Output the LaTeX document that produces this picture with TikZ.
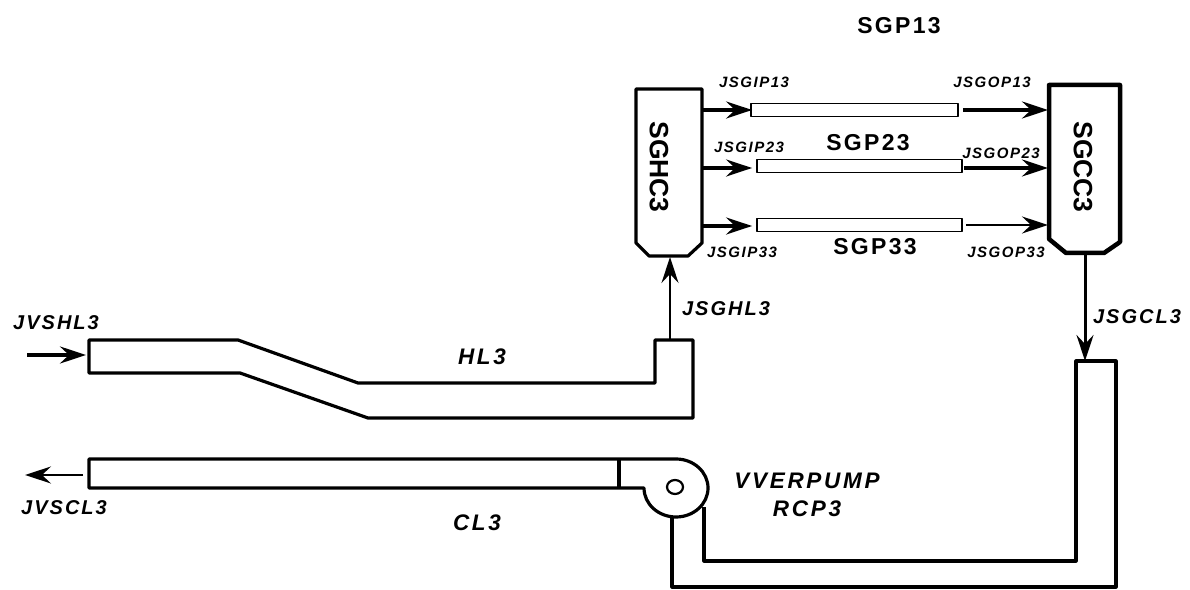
\documentclass[tikz,border=0pt]{standalone}
\usepackage{fontspec}
\setmainfont{Liberation Sans}[LetterSpace=10]
\newfontfamily\widefont{Liberation Sans}[LetterSpace=12]
\newfontfamily\tightfont{Liberation Sans}
\usetikzlibrary{arrows.meta,calc,positioning}
\begin{document}
\begin{tikzpicture}[x=1pt,y=1pt,line join=round,
  pipe/.style={draw=black,line width=3.2pt},
  tube/.style={draw=black,line width=1.8pt,fill=white,minimum height=13pt,inner sep=0pt},
  lab/.style={font=\bfseries\itshape\fontsize{20}{20}\selectfont,inner sep=0pt},
  wlab/.style={font=\widefont\bfseries\itshape\fontsize{22.5}{22.5}\selectfont,inner sep=0pt},
  slab/.style={font=\bfseries\itshape\fontsize{15}{15}\selectfont,inner sep=0pt},
  tlab/.style={font=\bfseries\fontsize{23}{23}\selectfont,inner sep=0pt},
  hdr/.style={font=\tightfont\bfseries\fontsize{26.5}{26.5}\selectfont,inner sep=0pt,rotate=-90},
  ar/.style={-{Stealth[length=26pt,width=17pt,inset=9pt]},line width=3.4pt},
  art/.style={-{Stealth[length=26pt,width=17pt,inset=9pt]},line width=1.8pt}]
  \useasboundingbox (0,0) rectangle (1190,589);
  % header boxes, y = 589 - y of the scan
  \draw[pipe] (636,500) -- (702,500) -- (702,346) -- (688,333) -- (649,333) -- (636,346) -- cycle;
  \draw[pipe,line width=4.5pt] (1049,504) -- (1120,504) -- (1120,347) -- (1104,336) -- (1066,336) -- (1049,350) -- cycle;
  \node[hdr] (sghc) at (659,422) {SGHC3};
  \node[hdr] (sgcc) at (1083,422) {SGCC3};
  \coordinate (sghcr) at (702,422);
  \coordinate (sgccl) at (1048,422);
  \coordinate (sghcb) at (670,332);
  \coordinate (sgccb) at (1085,335);
  % steam generator tubes
  \node[tube,minimum width=207pt] (tube1) at (854.5,479) {};
  \node[tube,minimum width=205pt] (tube2) at (859.5,423) {};
  \node[tube,minimum width=205pt] (tube3) at (859.5,364) {};
  \draw[ar]  (sghcr |- tube1.west) -- ([xshift=2pt]tube1.west);
  \draw[ar]  ($(sghcr |- tube2.west)+(0,-2)$) -- ([shift={(-4pt,-2pt)}]tube2.west);
  \draw[ar]  ($(sghcr |- tube3.west)+(0,-1)$) -- ([shift={(-4pt,-1pt)}]tube3.west);
  \draw[ar]  ([xshift=4pt]tube1.east) -- (sgccl |- tube1.east);
  \draw[ar]  ([shift={(1pt,-2pt)}]tube2.east) -- ($(sgccl |- tube2.east)+(0,-2)$);
  \draw[ar,line width=2.6pt] ([xshift=3pt]tube3.east) -- (sgccl |- tube3.east);
  % hot leg
  \draw[pipe] (89,249) -- (238,249) -- (358,206) -- (655,206) -- (655,249) -- (693,249)
    -- (693,171) -- (368,171) -- (240,216) -- (89,216) -- cycle;
  \coordinate (hlin) at (86,234);
  \coordinate (hlsrc) at (27,234);
  \coordinate (hlout) at (670,249);
  \draw[ar] (hlsrc) -- (hlin);
  \draw[art] (hlout) -- (sghcb);
  % cold leg and pump
  \draw[pipe] (676,130) arc (90:-180:32 and 29) -- (89,101) -- (89,130) -- cycle;
  \draw[pipe] (619,130) -- (619,102);
  \draw[pipe,line width=2.2pt] (675,102) ellipse (8 and 7);
  \coordinate (clout) at (83,114);
  \coordinate (clend) at (25,114);
  \draw[art] (clout) -- (clend);
  % crossover leg
  \draw[pipe] (672,73) -- (672,2) -- (1116,2) -- (1116,228) -- (1076,228) -- (1076,28) -- (704,28) -- (704,82);
  \coordinate (xlin) at (1085,228);
  \draw[ar,line width=3pt] (sgccb) -- (xlin);
  % labels
  \node[tlab] (sgp13) at (899,563) {SGP13};
  \node[tlab] (sgp23) at (868,446) {SGP23};
  \node[tlab] (sgp33) at (875,342) {SGP33};
  \node[slab] (jsgip13) at (754,507) {JSGIP13};
  \node[slab] (jsgip23) at (749,442) {JSGIP23};
  \node[slab] (jsgip33) at (742,337) {JSGIP33};
  \node[slab] (jsgop13) at (992,507) {JSGOP13};
  \node[slab] (jsgop23) at (1001,436) {JSGOP23};
  \node[slab] (jsgop33) at (1006,337) {JSGOP33};
  \node[lab] (jsghl3) at (726,280) {JSGHL3};
  \node[lab] (jsgcl3) at (1137,272) {JSGCL3};
  \node[lab] (jvshl3) at (56,266) {JVSHL3};
  \node[lab] (jvscl3) at (64,81) {JVSCL3};
  \node[wlab] (hl3) at (482,232) {HL3};
  \node[wlab] (cl3) at (477,66) {CL3};
  \node[wlab] (vverpump) at (807,108) {VVERPUMP};
  \node[wlab] (rcp3) at (807,80) {RCP3};
\end{tikzpicture}
\end{document}
